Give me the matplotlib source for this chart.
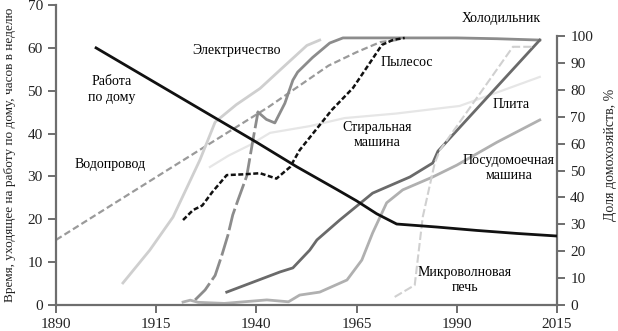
import matplotlib.pyplot as plt

plt.rcParams['font.family'] = ['Liberation Serif', 'DejaVu Serif']

# Время на работу по дому, часов в неделю (левая ось)
housework_years = [1900, 1910, 1920, 1930, 1940, 1950, 1960, 1965, 1970, 1975, 1985, 1995, 2005, 2015]
housework_hours = [60, 54.5, 49, 43.5, 38, 32.3, 27, 24.3, 21.3, 18.9, 18.2, 17.4, 16.7, 16.1]

# Доля домохозяйств, % (правая ось)
water_years = [1890, 1916, 1943, 1958, 1965, 1971, 1975]
water_pct = [24.2, 48.5, 73.6, 89, 94, 97.8, 98.5]

electricity_years = [1906.7, 1913.4, 1919.2, 1925.9, 1929.7, 1935, 1940.9, 1946, 1952.6, 1955.8]
electricity_pct = [8.2, 20.4, 32.7, 53.9, 68, 74.5, 80.5, 87.5, 96.5, 98.5]

fridge_early_years = [1924.7, 1927.2, 1929.7, 1931.4, 1932.9, 1934.1, 1935.4, 1937.6, 1939.1, 1940.4]
fridge_early_pct = [1.9, 5.6, 11, 18.6, 26, 33.5, 39, 48, 61, 71.7]
fridge_years = [1940.4, 1942.5, 1944.6, 1947.1, 1949.1, 1950.3, 1954, 1958.3, 1961.6, 1990, 2000, 2010.7]
fridge_pct = [71.7, 69, 67.7, 75, 83.6, 86.6, 92, 97.4, 99.3, 99.3, 99, 98.5]

vacuum_years = [1921.7, 1924.2, 1926.5, 1929, 1932.6, 1937, 1940.9, 1945, 1948.4, 1950.8,
                1958.8, 1964.1, 1968.3, 1971.3, 1974, 1977]
vacuum_pct = [31.6, 35.3, 37, 42, 48.3, 48.6, 49, 47, 51.3, 57.6,
              72.5, 80.7, 90, 96.7, 98.5, 99.3]

washer_years = [1928.4, 1933, 1938.4, 1943.4, 1953.3, 1962, 1975, 1985, 1990.7, 2000, 2010.7]
washer_pct = [51.3, 55.5, 59.5, 64, 66.5, 69.5, 71.2, 73, 74, 79, 84.8]

stove_years = [1932.6, 1945.9, 1949.1, 1953.3, 1955.1, 1960.8, 1969, 1978.3, 1984, 1985.3, 2010.7]
stove_pct = [4.8, 12.3, 13.8, 20.4, 24.2, 31.6, 41.6, 47.6, 52.8, 57.2, 98.5]

dishwasher_years = [1921.7, 1923.5, 1925.5, 1932, 1942.6, 1948, 1950.8, 1955.8, 1962.6, 1966.3,
                    1969, 1972.5, 1976.5, 1984, 1990, 2000, 2010.7]
dishwasher_pct = [1.1, 1.8, 1.0, 0.6, 1.9, 1.2, 3.7, 4.8, 9.3, 16.7,
                  26.8, 38, 42.8, 47.6, 52, 60.5, 68.8]

microwave_years = [1974.5, 1979.5, 1981.5, 1984.5, 1985.8, 2004, 2009]
microwave_pct = [3, 7.4, 32.7, 52.8, 57.6, 96, 96]

labels = {
    "Работа\nпо дому": (1904, 50.3),
    "Водопровод": (1903.5, 32.7),
    "Электричество": (1935, 59.5),
    "Холодильник": (2001, 66.8),
    "Пылесос": (1977.5, 56.5),
    "Стиральная\nмашина": (1970, 39.7),
    "Плита": (2003.5, 46.7),
    "Посудомоечная\nмашина": (2003, 32),
    "Микроволновая\nпечь": (1992, 5.8),
}

spine_color = "#6e6e6e"

fig = plt.figure(figsize=(6.18, 3.31), dpi=100)
ax = fig.add_axes([0.0906, 0.0785, 0.8107, 0.9063])
ax2 = ax.twinx()

ax.set_xlim(1890, 2015)
ax.set_ylim(0, 70)
ax2.set_ylim(0, 100 * 300 / 269)

# бытовая техника, правая ось
ax2.plot(water_years, water_pct, color="#9a9a9a", lw=1.6, ls=(0, (3, 1.5)))
ax2.plot(electricity_years, electricity_pct, color="#cfcfcf", lw=2)
ax2.plot(washer_years, washer_pct, color="#e6e6e6", lw=1.6)
ax2.plot(fridge_early_years, fridge_early_pct, color="#8c8c8c", lw=2, ls=(0, (8, 1.5)))
ax2.plot(fridge_years, fridge_pct, color="#8c8c8c", lw=2)
ax2.plot(dishwasher_years, dishwasher_pct, color="#b0b0b0", lw=2)
ax2.plot(stove_years, stove_pct, color="#6a6a6a", lw=2)
ax2.plot(microwave_years, microwave_pct, color="#d0d0d0", lw=1.5, ls=(0, (4, 1.5)))
ax2.plot(vacuum_years, vacuum_pct, color="#111111", lw=1.8, ls=(0, (2, 1)))

# работа по дому, левая ось
ax.plot(housework_years, housework_hours, color="#111111", lw=2)
ax.set_zorder(ax2.get_zorder() + 1)
ax.patch.set_visible(False)

for text, (x, y) in labels.items():
    ax.text(x, y, text, ha="center", va="center", fontsize=10, linespacing=1.25)

ax.set_xticks([1890, 1915, 1940, 1965, 1990, 2015])
ax.set_yticks(range(0, 71, 10))
ax2.set_yticks(range(0, 101, 10))

for a in (ax, ax2):
    a.spines["top"].set_visible(False)
    for s in a.spines.values():
        s.set_color(spine_color)
        s.set_linewidth(1.6)
    a.tick_params(colors=spine_color, width=1.4, length=6, labelsize=11, labelcolor="#222222")
ax.spines["right"].set_visible(False)
ax2.spines["left"].set_visible(False)
ax2.spines["bottom"].set_visible(False)
ax2.spines["right"].set_bounds(0, 100)

ax.set_ylabel("Время, уходящее на работу по дому, часов в неделю", fontsize=9.5,
              color="#222222")
ax.yaxis.set_label_coords(-0.08, 0.5)
ax2.set_ylabel("Доля домохозяйств, %", fontsize=10, color="#222222", rotation=90, labelpad=8)

fig.savefig("out.png", dpi=100)
